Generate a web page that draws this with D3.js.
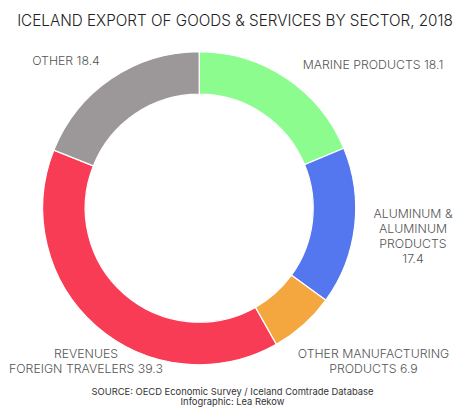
<!DOCTYPE html>
<html><head><meta charset="utf-8">
<script src="https://cdn.jsdelivr.net/npm/d3@7/dist/d3.min.js"></script>
<style>html,body{margin:0;padding:0;background:#fff}svg{display:block}text{font-family:Inter,"Open Sans",sans-serif}</style>
</head><body><svg id="c" width="474" height="408"></svg>
<script>
const categories=["Marine Products","Aluminum & Aluminum Products","Other Manufacturing Products","Revenues Foreign Travelers","Other"];
// slice sizes as drawn in the picture (they differ slightly from the printed labels)
const drawnShares=[18.75,16.25,6.8,39.25,18.95];
const colors=["#8cfc8e","#5476ee","#f4a63f","#f93c55","#9c9798"];
const title="ICELAND EXPORT OF GOODS & SERVICES BY SECTOR, 2018";
const labels=[
 {lines:["MARINE PRODUCTS 18.1"],x:373,y:[69]},
 {lines:["ALUMINUM &","ALUMINUM","PRODUCTS","17.4"],x:413,y:[218,233,248,263]},
 {lines:["OTHER MANUFACTURING","PRODUCTS 6.9"],x:373.5,y:[358,373]},
 {lines:["REVENUES","FOREIGN TRAVELERS 39.3"],x:86,y:[358,373]},
 {lines:["OTHER 18.4"],x:66,y:[65]}
];
const source=["SOURCE: OECD Economic Survey / Iceland Comtrade Database","Infographic: Lea Rekow"];
const svg=d3.select("#c");
const pie=d3.pie().sort(null)(drawnShares);
const arc=d3.arc().innerRadius(114).outerRadius(156.5);
svg.append("g").attr("transform","translate(199.2,208.2)")
 .selectAll("path").data(pie).join("path")
 .attr("d",arc).attr("fill",(d,i)=>colors[i]).attr("stroke","#fff").attr("stroke-width",1.2);
svg.append("text").attr("x",235).attr("y",26).attr("text-anchor","middle")
 .attr("font-size",15.25).attr("font-weight",300).attr("fill","#222").text(title);
labels.forEach(l=>l.lines.forEach((t,i)=>svg.append("text").attr("x",l.x).attr("y",l.y[i])
 .attr("text-anchor","middle").attr("font-size",12.3).attr("font-weight",300).attr("fill","#555").text(t)));
source.forEach((t,i)=>svg.append("text").attr("x",232.5).attr("y",395+i*9.5)
 .attr("text-anchor","middle").attr("font-size",9.4).attr("fill","#333").text(t));
</script></body></html>
